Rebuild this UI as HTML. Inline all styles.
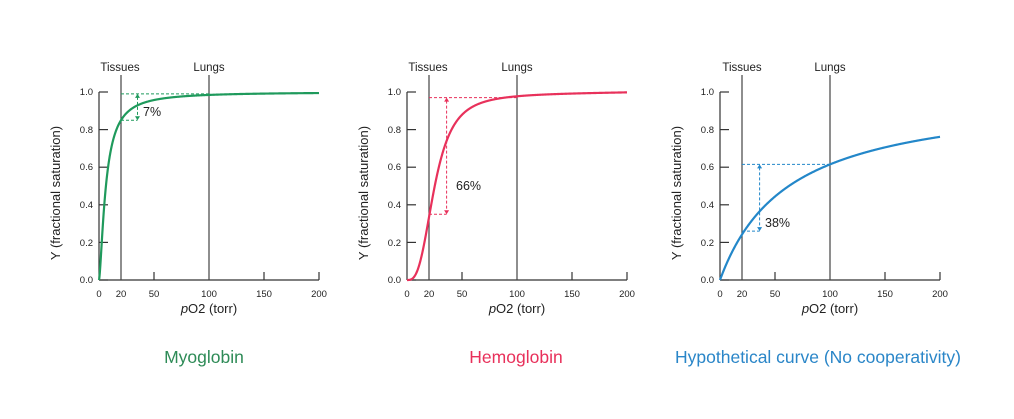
<!DOCTYPE html>
<html><head><meta charset="utf-8"><style>
html,body{margin:0;padding:0;background:#fff;}
svg text{font-family:"Liberation Sans",sans-serif;fill:#222;}
</style></head><body>
<svg id="s" width="1014" height="414" viewBox="0 0 1014 414" xmlns="http://www.w3.org/2000/svg">
<rect width="1014" height="414" fill="#fff"/>
<g font-size="11.5" text-anchor="middle">
<text x="120" y="71">Tissues</text><text x="209" y="71">Lungs</text>
<text x="428" y="71">Tissues</text><text x="517" y="71">Lungs</text>
<text x="742" y="71">Tissues</text><text x="830" y="71">Lungs</text>
</g>
<g font-size="12.5">
<text x="143" y="116">7%</text>
<text x="456" y="190">66%</text>
<text x="765" y="227">38%</text>
</g>
<text x="204" y="363" font-size="17.5" style="fill:#2e8b57" text-anchor="middle">Myoglobin</text>
<text x="516" y="363" font-size="17.5" style="fill:#e8315b" text-anchor="middle">Hemoglobin</text>
<text x="818" y="363" font-size="17.5" style="fill:#2a86c8" text-anchor="middle">Hypothetical curve (No cooperativity)</text>
<g font-size="9.5">
<text x="99" y="297" text-anchor="middle">0</text><text x="121" y="297" text-anchor="middle">20</text><text x="154" y="297" text-anchor="middle">50</text><text x="209" y="297" text-anchor="middle">100</text><text x="264" y="297" text-anchor="middle">150</text><text x="319" y="297" text-anchor="middle">200</text>
<text x="407" y="297" text-anchor="middle">0</text><text x="429" y="297" text-anchor="middle">20</text><text x="462" y="297" text-anchor="middle">50</text><text x="517" y="297" text-anchor="middle">100</text><text x="572" y="297" text-anchor="middle">150</text><text x="627" y="297" text-anchor="middle">200</text>
<text x="720" y="297" text-anchor="middle">0</text><text x="742" y="297" text-anchor="middle">20</text><text x="775" y="297" text-anchor="middle">50</text><text x="830" y="297" text-anchor="middle">100</text><text x="885" y="297" text-anchor="middle">150</text><text x="940" y="297" text-anchor="middle">200</text>
</g>
<g font-size="9.5" text-anchor="end">
<text x="93" y="283">0.0</text><text x="93" y="246">0.2</text><text x="93" y="208">0.4</text><text x="93" y="170">0.6</text><text x="93" y="133">0.8</text><text x="93" y="95">1.0</text>
<text x="401" y="283">0.0</text><text x="401" y="246">0.2</text><text x="401" y="208">0.4</text><text x="401" y="170">0.6</text><text x="401" y="133">0.8</text><text x="401" y="95">1.0</text>
<text x="714" y="283">0.0</text><text x="714" y="246">0.2</text><text x="714" y="208">0.4</text><text x="714" y="170">0.6</text><text x="714" y="133">0.8</text><text x="714" y="95">1.0</text>
</g>
<g font-size="13" text-anchor="middle">
<text x="209" y="313"><tspan font-style="italic">p</tspan>O2 (torr)</text>
<text x="517" y="313"><tspan font-style="italic">p</tspan>O2 (torr)</text>
<text x="830" y="313"><tspan font-style="italic">p</tspan>O2 (torr)</text>
<text transform="translate(60,193) rotate(-90)">Y (fractional saturation)</text>
<text transform="translate(368,193) rotate(-90)">Y (fractional saturation)</text>
<text transform="translate(681,193) rotate(-90)">Y (fractional saturation)</text>
</g>
</svg>
<script>
var s=document.getElementById('s'),NS='http://www.w3.org/2000/svg';
function el(t,a){var e=document.createElementNS(NS,t);for(var k in a)e.setAttribute(k,a[k]);s.appendChild(e);return e;}
var Y0=280,Y1=92;
function fy(v){return Y0-(Y0-Y1)*v;}
var charts=[
 {x0:99,col:'#1f9a5c',f:function(p){var r=Math.pow(p,1.5);return r/(r+15.8);},top:0.99,bot:0.85,ax:35},
 {x0:407,col:'#e8315b',f:function(p){var r=Math.pow(p/25,3.0);return r/(1+r)*(0.985+0.015*p/200);},top:0.97,bot:0.35,ax:36},
 {x0:720,col:'#2387c9',f:function(p){return p/(p+62.6);},top:0.615,bot:0.26,ax:36}
];
charts.forEach(function(c){
 function fx(p){return c.x0+p*1.1;}
 el('line',{x1:c.x0,y1:Y1,x2:c.x0,y2:Y0,stroke:'#333','stroke-width':1.2});
 el('line',{x1:c.x0,y1:Y0,x2:fx(200),y2:Y0,stroke:'#333','stroke-width':1.2});
 for(var i=0;i<=5;i++){var y=fy(i*0.2);el('line',{x1:c.x0,y1:y,x2:c.x0+9,y2:y,stroke:'#333','stroke-width':1.2});}
 [50,150,200].forEach(function(p){el('line',{x1:fx(p),y1:Y0,x2:fx(p),y2:Y0-8,stroke:'#333','stroke-width':1.2});});
 [20,100].forEach(function(p){el('line',{x1:fx(p),y1:75,x2:fx(p),y2:Y0,stroke:'#444','stroke-width':1.2});});
 var yt=fy(c.top),yb=fy(c.bot),xa=fx(c.ax);
 el('line',{x1:fx(20),y1:yt,x2:fx(100),y2:yt,stroke:c.col,'stroke-width':1,'stroke-dasharray':'3,2'});
 el('line',{x1:fx(20),y1:yb,x2:xa,y2:yb,stroke:c.col,'stroke-width':1,'stroke-dasharray':'3,2'});
 el('line',{x1:xa,y1:yt+3,x2:xa,y2:yb-3,stroke:c.col,'stroke-width':1,'stroke-dasharray':'3,2'});
 el('path',{d:'M'+(xa-2.5)+' '+(yt+4)+' L'+xa+' '+yt+' L'+(xa+2.5)+' '+(yt+4)+'Z',fill:c.col});
 el('path',{d:'M'+(xa-2.5)+' '+(yb-4)+' L'+xa+' '+yb+' L'+(xa+2.5)+' '+(yb-4)+'Z',fill:c.col});
 var d='';for(var p=0;p<=200;p+=0.25){d+=(p?'L':'M')+fx(p).toFixed(2)+' '+fy(c.f(p)).toFixed(2);}
 el('path',{d:d,fill:'none',stroke:c.col,'stroke-width':2.2});
});
</script>
</body></html>
